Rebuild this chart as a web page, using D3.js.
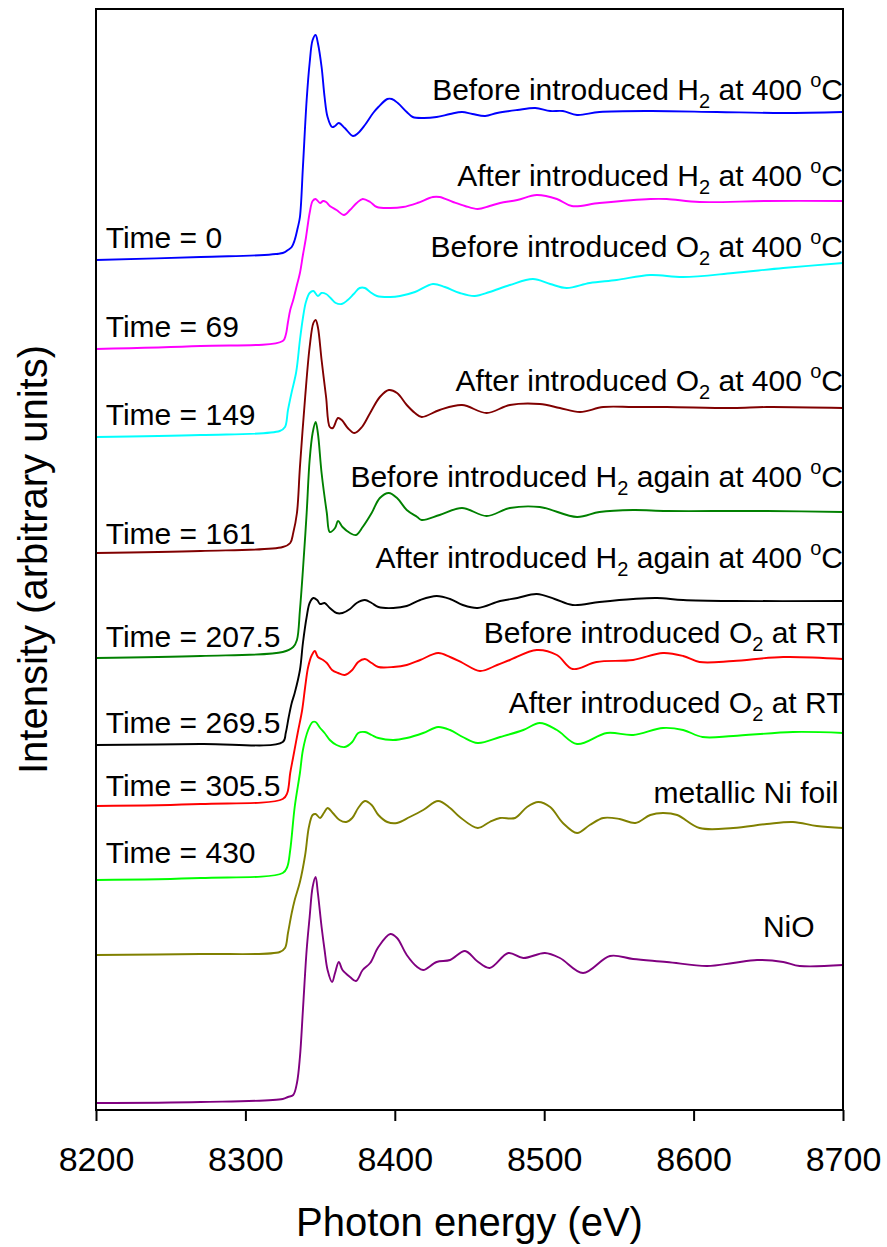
<!DOCTYPE html>
<html>
<head>
<meta charset="utf-8">
<script src="https://cdn.jsdelivr.net/npm/d3@7"></script>
<style>
  body { margin: 0; background: #fff; }
  svg { display: block; }
  text { font-family: "Liberation Sans", Arial, Helvetica, sans-serif; fill: #000; }
</style>
</head>
<body>
<svg id="chart" width="887" height="1247"></svg>
<script>
// Ni K-edge XANES spectra, stacked with vertical offsets (arbitrary units)
// Each series: [photon energy (eV), normalized intensity + offset]

const xTicks = [8200, 8300, 8400, 8500, 8600, 8700];

const beforeH2 = [
  [8200, 8.50], [8270, 8.53], [8325, 8.57], [8328.5, 8.60], [8331, 8.63], [8333, 8.70],
  [8335, 8.82], [8336.5, 8.93], [8338.5, 9.43], [8341, 10.10], [8343, 10.47], [8345, 10.70],
  [8347, 10.75], [8348.5, 10.67], [8351, 10.43], [8353, 10.13], [8355, 9.93], [8358, 9.83],
  [8360, 9.84], [8362.5, 9.87], [8366.5, 9.82], [8372, 9.74], [8375.5, 9.77], [8380, 9.85],
  [8385.5, 9.97], [8389, 10.03], [8395, 10.11], [8398, 10.11], [8402, 10.07], [8408, 9.98],
  [8412, 9.93], [8419, 9.92], [8428, 9.93], [8437, 9.96], [8445, 9.98], [8452, 9.96],
  [8460.5, 9.94], [8468.5, 9.97], [8482, 10.00], [8494, 10.02], [8504, 9.99], [8512.5, 9.99],
  [8522, 9.95], [8537, 9.98], [8571, 9.99], [8615.5, 9.98], [8660, 9.97], [8700, 9.98]
];

const afterH2 = [
  [8200, 7.61], [8270, 7.64], [8325, 7.69], [8327, 7.75], [8328.5, 7.88], [8330, 8.00],
  [8332, 8.10], [8334.5, 8.25], [8336.5, 8.37], [8338.5, 8.55], [8340.5, 8.72], [8343, 8.97],
  [8345, 9.09], [8347, 9.11], [8350, 9.07], [8352, 9.09], [8354, 9.08], [8356.5, 9.04],
  [8361, 9.00], [8366, 8.95], [8370, 9.00], [8374.5, 9.07], [8378.5, 9.11], [8383.5, 9.08],
  [8388, 9.03], [8397, 9.02], [8405.5, 9.03], [8415, 9.07], [8425.5, 9.13], [8430, 9.13],
  [8439, 9.08], [8447, 9.04], [8455.5, 9.01], [8463.5, 9.04], [8470.5, 9.07], [8482, 9.10],
  [8495, 9.15], [8508.5, 9.11], [8518.5, 9.04], [8537, 9.07], [8571, 9.11], [8582, 9.11],
  [8604, 9.08], [8649, 9.09], [8700, 9.09]
];

const beforeO2 = [
  [8200, 6.73], [8270, 6.75], [8323, 6.79], [8326.5, 6.83], [8328.5, 7.00], [8331, 7.18],
  [8334, 7.38], [8336.5, 7.70], [8338.5, 7.92], [8340.5, 8.08], [8343, 8.17], [8345.5, 8.19],
  [8348.5, 8.14], [8351, 8.17], [8354, 8.16], [8357, 8.12], [8360.5, 8.07], [8364.5, 8.06],
  [8368.5, 8.10], [8372.5, 8.16], [8376.5, 8.22], [8380, 8.22], [8383.5, 8.18], [8388, 8.14],
  [8397, 8.13], [8403.5, 8.14], [8413.5, 8.18], [8425.5, 8.26], [8433.5, 8.23], [8443.5, 8.17],
  [8453.5, 8.14], [8463.5, 8.18], [8477, 8.25], [8492.5, 8.31], [8504, 8.26], [8515, 8.22],
  [8530.5, 8.27], [8548.5, 8.30], [8571, 8.35], [8593, 8.33], [8626.5, 8.37], [8660, 8.42],
  [8700, 8.47]
];

const afterO2 = [
  [8200, 5.57], [8270, 5.59], [8325, 5.63], [8330, 5.67], [8332, 5.77], [8334.5, 5.97],
  [8336.5, 6.43], [8340, 7.13], [8343, 7.63], [8345.5, 7.87], [8347, 7.90], [8348.5, 7.83],
  [8351, 7.50], [8354, 7.13], [8356.5, 6.83], [8358.5, 6.82], [8362, 6.92], [8364.5, 6.90],
  [8368.5, 6.82], [8373, 6.77], [8378, 6.83], [8383.5, 6.97], [8390, 7.13], [8396, 7.20],
  [8401.5, 7.17], [8408, 7.05], [8413.5, 6.97], [8418, 6.93], [8430, 7.00], [8445, 7.05],
  [8461.5, 6.97], [8477, 7.05], [8497, 7.06], [8510.5, 7.02], [8524, 6.98], [8539.5, 7.03],
  [8559.5, 7.03], [8582, 7.03], [8626.5, 7.02], [8649, 7.03], [8700, 7.02]
];

const beforeH2Again = [
  [8200, 4.52], [8270, 4.54], [8325, 4.58], [8332, 4.63], [8334.5, 4.70], [8336.5, 5.00],
  [8338.5, 5.40], [8341, 5.97], [8343, 6.50], [8345, 6.77], [8347, 6.88], [8348.5, 6.77],
  [8351, 6.37], [8354.5, 5.97], [8356.5, 5.78], [8360, 5.82], [8362, 5.89], [8365, 5.83],
  [8370, 5.77], [8374, 5.75], [8378.5, 5.83], [8384.5, 5.97], [8390, 6.12], [8396, 6.17],
  [8401.5, 6.12], [8408, 6.00], [8415, 5.93], [8418, 5.90], [8430, 5.95], [8445, 6.02],
  [8461.5, 5.94], [8477, 6.02], [8497, 6.03], [8522, 5.93], [8537, 5.98], [8559.5, 6.00],
  [8582, 5.99], [8626.5, 5.99], [8649, 5.99], [8700, 5.98]
];

const afterH2Again = [
  [8200, 3.65], [8270, 3.66], [8325, 3.68], [8327, 3.77], [8329, 3.93], [8331, 4.07],
  [8333, 4.17], [8336.5, 4.40], [8338.5, 4.67], [8341, 4.93], [8343, 5.07], [8345.5, 5.12],
  [8348, 5.10], [8350, 5.06], [8353, 5.07], [8356.5, 5.02], [8361, 4.97], [8365, 4.97],
  [8370, 5.01], [8374.5, 5.07], [8380, 5.10], [8384.5, 5.07], [8389, 5.03], [8399, 5.02],
  [8408, 5.04], [8417, 5.10], [8428, 5.14], [8437, 5.11], [8445.5, 5.05], [8455.5, 5.02],
  [8470.5, 5.09], [8482, 5.12], [8495, 5.16], [8507, 5.11], [8519, 5.05], [8537, 5.08],
  [8559.5, 5.11], [8575.5, 5.12], [8593, 5.10], [8626.5, 5.09], [8700, 5.09]
];

const beforeO2RT = [
  [8200, 3.04], [8270, 3.06], [8325, 3.11], [8328, 3.17], [8330, 3.37], [8332, 3.53],
  [8335, 3.77], [8338, 4.00], [8340, 4.23], [8342, 4.43], [8344.5, 4.55], [8346.5, 4.59],
  [8348.5, 4.53], [8352, 4.50], [8354.5, 4.47], [8358, 4.40], [8362, 4.37], [8366.5, 4.35],
  [8371.5, 4.40], [8375.5, 4.48], [8380, 4.51], [8384.5, 4.47], [8389, 4.43], [8399, 4.43],
  [8408, 4.45], [8417, 4.50], [8429, 4.57], [8437, 4.53], [8445.5, 4.47], [8457, 4.39],
  [8468.5, 4.45], [8477, 4.50], [8495, 4.60], [8508.5, 4.55], [8519, 4.41], [8535, 4.48],
  [8559.5, 4.50], [8579.5, 4.57], [8593, 4.54], [8604, 4.48], [8626.5, 4.49], [8660, 4.53],
  [8700, 4.51]
];

const afterO2RT = [
  [8200, 2.30], [8270, 2.32], [8325, 2.37], [8328, 2.43], [8330, 2.60], [8333, 3.03],
  [8336.5, 3.37], [8338.5, 3.60], [8342, 3.80], [8345, 3.88], [8347, 3.88], [8350, 3.82],
  [8353, 3.77], [8356.5, 3.70], [8361, 3.65], [8366.5, 3.63], [8371.5, 3.68], [8375.5, 3.77],
  [8380, 3.78], [8384.5, 3.75], [8389, 3.72], [8399, 3.70], [8408, 3.72], [8419, 3.77],
  [8429, 3.83], [8437, 3.80], [8445.5, 3.73], [8455.5, 3.67], [8470.5, 3.73], [8486, 3.80],
  [8497, 3.87], [8508.5, 3.80], [8522, 3.66], [8542, 3.77], [8559.5, 3.75], [8579.5, 3.82],
  [8593, 3.80], [8606, 3.73], [8626.5, 3.74], [8666.5, 3.78], [8700, 3.77]
];

const niFoil = [
  [8200, 1.55], [8270, 1.56], [8323, 1.58], [8326.5, 1.62], [8328.5, 1.77], [8331, 1.97],
  [8333, 2.10], [8336.5, 2.28], [8340, 2.55], [8342.5, 2.83], [8345, 2.95], [8347, 2.96],
  [8350, 2.92], [8352.5, 2.97], [8355, 3.02], [8358.5, 2.97], [8363, 2.90], [8367.5, 2.88],
  [8371.5, 2.92], [8375.5, 3.02], [8380, 3.09], [8384.5, 3.05], [8389, 2.95], [8395, 2.88],
  [8401.5, 2.87], [8410, 2.93], [8419, 3.00], [8429, 3.09], [8437, 3.02], [8443.5, 2.93],
  [8455.5, 2.82], [8463.5, 2.88], [8470.5, 2.92], [8480.5, 2.92], [8488.5, 3.03], [8496, 3.08],
  [8504, 3.03], [8512.5, 2.87], [8522, 2.77], [8530.5, 2.85], [8539.5, 2.92], [8550.5, 2.91],
  [8561, 2.87], [8571, 2.95], [8579.5, 2.97], [8589, 2.95], [8604, 2.82], [8626.5, 2.82],
  [8649, 2.86], [8666.5, 2.88], [8682.5, 2.84], [8700, 2.82]
];

const niO = [
  [8200, 0.07], [8270, 0.08], [8325, 0.11], [8328.5, 0.13], [8332, 0.15], [8334.5, 0.27],
  [8336.5, 0.53], [8338.5, 1.00], [8341, 1.60], [8343, 1.93], [8345, 2.23], [8347, 2.33],
  [8348.5, 2.17], [8351, 1.83], [8353, 1.60], [8355, 1.40], [8358, 1.28], [8360, 1.37],
  [8362.5, 1.48], [8365, 1.40], [8370, 1.33], [8374, 1.29], [8378.5, 1.40], [8383.5, 1.47],
  [8389, 1.63], [8397, 1.76], [8401.5, 1.72], [8408, 1.55], [8415, 1.43], [8419, 1.40],
  [8428, 1.48], [8437, 1.50], [8447, 1.59], [8455, 1.49], [8463.5, 1.42], [8476, 1.57],
  [8486, 1.52], [8500.5, 1.57], [8510.5, 1.52], [8526, 1.37], [8544, 1.54], [8559.5, 1.51],
  [8582, 1.48], [8609, 1.44], [8626.5, 1.47], [8642.5, 1.50], [8660, 1.48], [8671, 1.44],
  [8700, 1.45]
];

// Condition names ("_2" = subscript 2, "^o" = superscript o)
const seriesLabels = [
  "Before introduced H_2 at 400 ^oC",
  "After introduced H_2 at 400 ^oC",
  "Before introduced O_2 at 400 ^oC",
  "After introduced O_2 at 400 ^oC",
  "Before introduced H_2 again at 400 ^oC",
  "After introduced H_2 again at 400 ^oC",
  "Before introduced O_2 at RT",
  "After introduced O_2 at RT",
  "metallic Ni foil",
  "NiO"
];
const timeLabels = ["Time = 0", "Time = 69", "Time = 149", "Time = 161",
                    "Time = 207.5", "Time = 269.5", "Time = 305.5", "Time = 430"];

const spectra = [beforeH2, afterH2, beforeO2, afterO2, beforeH2Again,
                 afterH2Again, beforeO2RT, afterO2RT, niFoil, niO];

// ---- styling / layout ----
const colors = ["#0000ff", "#ff00ff", "#00ffff", "#800000", "#008000",
                "#000000", "#ff0000", "#00ff00", "#808000", "#800080"];
// label anchors in data coordinates (energy of right end, intensity of baseline)
const labelAnchors = [
  [8700, 10.10], [8700, 9.24], [8700, 8.53], [8700, 7.19], [8700, 6.23],
  [8700, 5.42], [8701, 4.67], [8701, 3.97], [8697, 3.07], [8681, 1.73]
];
const timeAnchors = [
  [8206.5, 8.62], [8206.5, 7.73], [8206.5, 6.85], [8206.5, 5.66],
  [8206.5, 4.63], [8206.5, 3.77], [8206.5, 3.14], [8206.5, 2.47]
];

const plot = { left: 96, right: 843, top: 9, bottom: 1110 };

const svg = d3.select("#chart");

const x = d3.scaleLinear().domain([8200, 8700]).range([plot.left, plot.right]);
const y = d3.scaleLinear().domain([0, 11.01]).range([plot.bottom, plot.top]);

// spectra
const line = d3.line()
  .x(d => x(d[0]))
  .y(d => y(d[1]))
  .curve(d3.curveCatmullRom.alpha(0.5));

svg.append("g")
  .selectAll("path")
  .data(spectra)
  .join("path")
  .attr("d", line)
  .attr("fill", "none")
  .attr("stroke", (d, i) => colors[i])
  .attr("stroke-width", 1.9)
  .attr("stroke-linejoin", "round");

// frame
svg.append("rect")
  .attr("x", plot.left).attr("y", plot.top)
  .attr("width", plot.right - plot.left)
  .attr("height", plot.bottom - plot.top)
  .attr("fill", "none")
  .attr("stroke", "#000")
  .attr("stroke-width", 2);

// x axis
const xAxis = d3.axisBottom(x)
  .tickValues(xTicks)
  .tickFormat(d3.format("d"))
  .tickSize(11)
  .tickPadding(26);

const gx = svg.append("g")
  .attr("transform", `translate(0,${plot.bottom})`)
  .call(xAxis);
gx.select(".domain").remove();
gx.selectAll(".tick line").attr("stroke", "#000").attr("stroke-width", 2);
gx.selectAll(".tick text")
  .attr("font-size", 34)
  .attr("font-family", "'Liberation Sans', Arial, sans-serif")
  .attr("fill", "#000");

// axis titles
svg.append("text")
  .attr("x", (plot.left + plot.right) / 2)
  .attr("y", 1236)
  .attr("text-anchor", "middle")
  .attr("font-size", 40)
  .text("Photon energy (eV)");

svg.append("text")
  .attr("transform", `translate(47,${(plot.top + plot.bottom) / 2}) rotate(-90)`)
  .attr("text-anchor", "middle")
  .attr("font-size", 40)
  .text("Intensity (arbitrary units)");

// rich label: "_2" -> subscript, "^o" -> superscript
function richText(sel, str) {
  const parts = str.split(/(_\d|\^o)/).filter(s => s.length);
  let shift = 0;
  parts.forEach(p => {
    if (p.startsWith("_")) {
      sel.append("tspan").attr("font-size", 20).attr("dy", 8 - shift).text(p.slice(1));
      shift = 8;
    } else if (p.startsWith("^")) {
      sel.append("tspan").attr("font-size", 20).attr("dy", -13 - shift).text(p.slice(1));
      shift = -13;
    } else {
      sel.append("tspan").attr("dy", -shift).text(p);
      shift = 0;
    }
  });
}

const labels = svg.append("g").attr("font-size", 30);
seriesLabels.forEach((s, i) => {
  const t = labels.append("text")
    .attr("x", x(labelAnchors[i][0]))
    .attr("y", y(labelAnchors[i][1]))
    .attr("text-anchor", "end");
  richText(t, s);
});

timeLabels.forEach((s, i) => {
  labels.append("text")
    .attr("x", x(timeAnchors[i][0]))
    .attr("y", y(timeAnchors[i][1]))
    .text(s);
});
</script>
</body>
</html>
